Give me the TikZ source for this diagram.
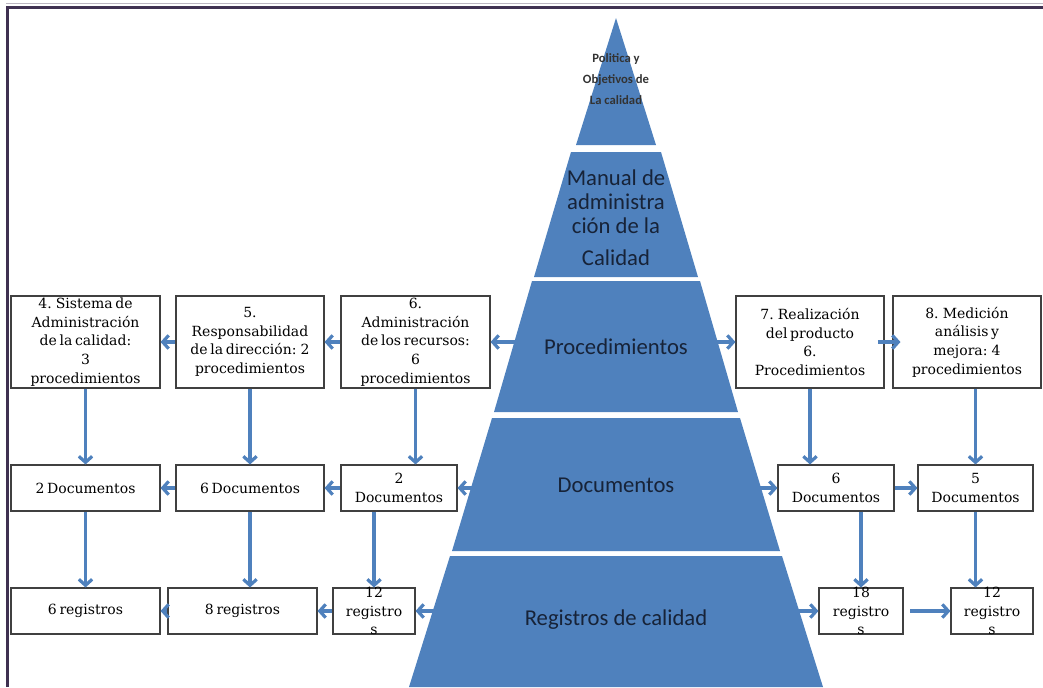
\documentclass[tikz,border=0pt]{standalone}
\usepackage{fontspec}
\setmainfont{DejaVu Serif}[WordSpace=0.6]
\newfontfamily\pyrfont{Carlito}
\usetikzlibrary{positioning,arrows.meta}

\definecolor{pyrblue}{RGB}{79,129,189}
\definecolor{framecol}{RGB}{63,49,81}
\definecolor{pyrtext}{RGB}{23,35,56}

\tikzset{
  box/.style 2 args={draw=black!75, line width=0.8pt, fill=white, minimum width=#1*0.75pt, minimum height=#2*0.75pt, inner sep=0pt},
  boxtext/.style={align=center, text=black, font=\fontsize{10.5}{14}\selectfont, inner sep=0pt},
  band/.style={fill=pyrblue},
  bandtext/.style={align=center, text=pyrtext, font=\pyrfont\fontsize{17}{18}\selectfont},
  arr/.style={color=pyrblue, line width=2.4pt, -{Straight Barb[length=4.5pt,width=10pt]}}
}

\begin{document}
\begin{tikzpicture}[ x=0.75pt , y=-0.75pt , on grid ]
\useasboundingbox (0,0) rectangle (1043,687);

% marco
\draw [framecol!35, line width=0.8pt] (6,3.5) -- (1043,3.5);
\draw [framecol, line width=2.25pt] (7.5,687) -- (7.5,7.5) -- (1043,7.5);

% piramide
\fill [band] (576,145) -- (616,18) -- (656,145) -- cycle;
\fill [band] (571,152) -- (661,152) -- (698,277) -- (534,277) -- cycle;
\fill [band] (532,281) -- (700,281) -- (738,412) -- (494,412) -- cycle;
\fill [band] (492,418) -- (740,418) -- (780,551) -- (452,551) -- cycle;
\fill [band] (450,556) -- (782,556) -- (823,687) -- (409,687) -- cycle;

\node [bandtext, font=\pyrfont\bfseries\fontsize{9.5}{15.75}\selectfont, text=black!80] (politica) at (616,79) {Politica y\\Objetivos de\\La calidad};
\node [bandtext] (manual) at (616,218) {Manual de\\administra\\ción de la\\[6pt]Calidad};
\node [bandtext] (procs) at (616,347) {Procedimientos};
\node [bandtext] (docs) at (616,485) {Documentos};
\node [bandtext] (regs) at (616,620) {Registros de calidad};

% procedimientos
\node [box={149}{92}, label={[boxtext]center:{4. Sistema de\\Administración\\de la calidad:\\3\\procedimientos}}] (proc4) at (85.5,342) {};
\node [box={148}{92}, label={[boxtext]center:{5.\\Responsabilidad\\de la dirección: 2\\procedimientos}}] (proc5) at (250,342) {};
\node [box={149}{92}, label={[boxtext]center:{6.\\Administración\\de los recursos:\\6\\procedimientos}}] (proc6) at (415.5,342) {};
\node [box={148}{92}, label={[boxtext]center:{7. Realización\\del producto\\6.\\Procedimientos}}] (proc7) at (810,342) {};
\node [box={148}{92}, label={[boxtext]center:{8. Medición\\análisis y\\mejora: 4\\procedimientos}}] (proc8) at (967,342) {};

% documentos
\node [box={149}{46}, label={[boxtext]center:{2 Documentos}}] (doc4) [below = 109.5pt of proc4] {};
\node [box={148}{46}, label={[boxtext]center:{6 Documentos}}] (doc5) [below = 109.5pt of proc5] {};
\node [box={116}{46}, label={[boxtext]center:{2\\Documentos}}] (doc6) at (399,488) {};
\node [box={116}{46}, label={[boxtext]center:{6\\Documentos}}] (doc7) at (836,488) {};
\node [box={115}{46}, label={[boxtext]center:{5\\Documentos}}] (doc8) at (975.5,488) {};

% registros
\node [box={149}{46}, label={[boxtext]center:{6 registros}}] (reg4) [below = 92.25pt of doc4] {};
\node [box={149}{46}, label={[boxtext]center:{8 registros}}] (reg5) at (242.5,611) {};
\node [box={82}{46}, label={[boxtext]center:{12\\registro\\s}}] (reg6) at (374,611) {};
\node [box={84}{46}, label={[boxtext]center:{18\\registro\\s}}] (reg7) at (861,611) {};
\node [box={82}{46}, label={[boxtext]center:{12\\registro\\s}}] (reg8) at (992,611) {};

\path [arr]
(proc6 -| procs.west) edge (proc6)
(proc6) edge (proc5)
(proc5) edge (proc4)
(proc7 -| procs.east) edge (proc7)
(proc7) edge [shorten <=-5pt, shorten >=-6pt] (proc8)
(doc6 -| docs.west) edge (doc6)
(doc6) edge (doc5)
(doc5) edge (doc4)
(doc7 -| docs.east) edge (doc7)
(doc7) edge (doc8)
(reg6 -| regs.west) edge (reg6)
(reg6) edge (reg5)
(reg5) edge (reg4)
(reg7 -| regs.east) edge (reg7)
(reg7) edge [shorten <=5pt] (reg8)
(proc4) edge (doc4)
(proc5) edge (doc5)
(proc6.south) edge (proc6.south |- doc6.north)
(proc7.south) edge (proc7.south |- doc7.north)
(proc8.south -| doc8) edge (doc8)
(doc4) edge (reg4)
(doc5.south) edge (doc5.south |- reg5.north)
(doc6.south -| reg6) edge (reg6)
(doc7.south -| reg7) edge (reg7)
(doc8.south) edge (doc8.south |- reg8.north);
\end{tikzpicture}
\end{document}
